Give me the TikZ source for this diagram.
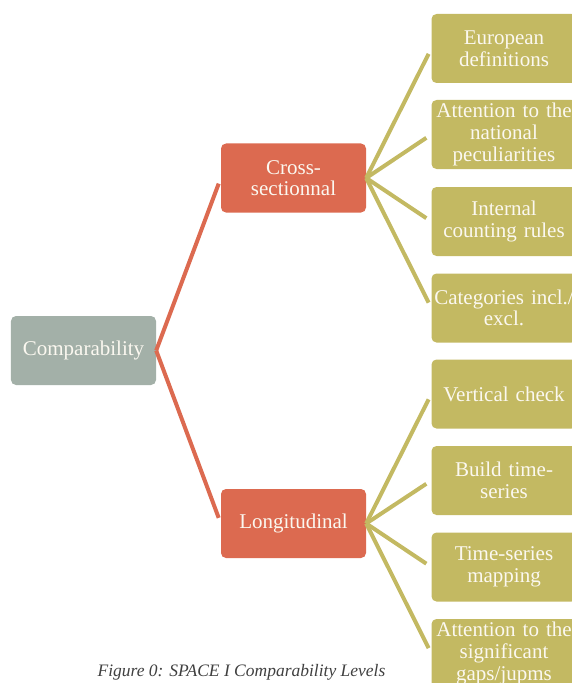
\documentclass[tikz,border=0pt]{standalone}
\usepackage{fontspec}
\setmainfont{Liberation Serif}
\usepackage{xcolor}
\usepackage{tikz}
\usetikzlibrary{positioning}

\definecolor{rootgrey}{HTML}{A3B0A8}
\definecolor{midorange}{HTML}{DC6A50}
\definecolor{leafolive}{HTML}{C3B962}
\definecolor{boxtext}{HTML}{FBF8F0}

\begin{document}
\begin{tikzpicture}[x=1bp, y=-1bp,
	box/.style={rectangle, rounded corners=5bp, minimum width=145bp, minimum height=69bp,
		text width=144bp, align=center, inner sep=0pt, text=boxtext,
		font=\fontsize{21bp}{21.7bp}\selectfont},
	rootbox/.style={box, fill=rootgrey},
	midbox/.style={box, fill=midorange},
	leafbox/.style={box, fill=leafolive},
	midlink/.style={draw=midorange, line width=4bp, shorten >=6bp},
	leaflink/.style={draw=leafolive, line width=4bp, shorten >=6bp}]
	\useasboundingbox (0,0) rectangle (572,683);

	\node[rootbox] (comp) at (83.5,350.5) {Comparability};

	\node[midbox] (cross) at (293.5,178) {Cross-\\sectionnal};
	\node[midbox] (longi) at (293.5,523.5) {Longitudinal};

	\node[leafbox] (euro) at (504,48.5) {European\\definitions};
	\node[leafbox] (natio) at (504,134.5) {Attention to the\\national\\peculiarities};
	\node[leafbox] (count) at (504,221.5) {Internal\\counting rules};
	\node[leafbox] (categ) at (504,308) {Categories incl./\\excl.};
	\node[leafbox] (vert) at (504,394) {Vertical check};
	\node[leafbox] (build) at (504,480.5) {Build time-\\series};
	\node[leafbox] (tsmap) at (504,567) {Time-series\\mapping};
	\node[leafbox] (gaps) at (504,653.5) {Attention to the\\significant\\gaps/jupms};

	\draw[midlink] (comp.east) -- (cross.west);
	\draw[midlink] (comp.east) -- (longi.west);

	\draw[leaflink] (cross.east) -- (euro.west);
	\draw[leaflink] (cross.east) -- (natio.west);
	\draw[leaflink] (cross.east) -- (count.west);
	\draw[leaflink] (cross.east) -- (categ.west);
	\draw[leaflink] (longi.east) -- (vert.west);
	\draw[leaflink] (longi.east) -- (build.west);
	\draw[leaflink] (longi.east) -- (tsmap.west);
	\draw[leaflink] (longi.east) -- (gaps.west);

	\node[anchor=base, text=black!75, font=\fontsize{17.5bp}{20bp}\selectfont\itshape] (caption) at (241.5,676)
		{Figure 0: SPACE I Comparability Levels};
\end{tikzpicture}
\end{document}
